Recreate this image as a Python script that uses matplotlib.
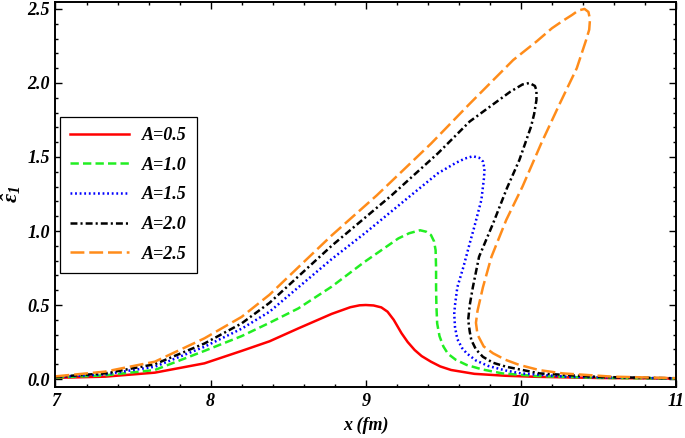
import matplotlib
matplotlib.use('Agg')
import matplotlib.pyplot as plt
from matplotlib.ticker import MultipleLocator, FormatStrFormatter

plt.rcParams['font.family'] = ['Liberation Serif', 'DejaVu Serif']
plt.rcParams['font.weight'] = 'bold'
plt.rcParams['font.style'] = 'italic'
plt.rcParams['mathtext.fontset'] = 'custom'
plt.rcParams['mathtext.it'] = 'Liberation Serif:italic:bold'
plt.rcParams['mathtext.rm'] = 'Liberation Serif:italic:bold'
plt.rcParams['lines.scale_dashes'] = False

# curves, ordered along each curve
x_05 = [7.0, 7.32, 7.64, 7.96, 8.2, 8.38, 8.565, 8.78, 8.9, 8.96, 9.0, 9.05, 9.1, 9.14,
        9.18, 9.23, 9.27, 9.315, 9.36, 9.42, 9.48, 9.55, 9.7, 9.9, 10.1, 10.5, 11.0]
y_05 = [0.008, 0.016, 0.043, 0.106, 0.19, 0.255, 0.342, 0.44, 0.485, 0.498, 0.5, 0.497,
        0.484, 0.455, 0.4, 0.31, 0.25, 0.196, 0.155, 0.117, 0.085, 0.061, 0.035, 0.022,
        0.015, 0.007, 0.003]

x_10 = [7.0, 7.32, 7.64, 7.96, 8.2, 8.38, 8.565, 8.78, 8.99, 9.1, 9.21, 9.28, 9.35, 9.39,
        9.42, 9.44, 9.45, 9.453, 9.453, 9.455, 9.46, 9.475, 9.5, 9.53, 9.58, 9.65, 9.75,
        9.88, 10.1, 10.5, 11.0]
y_10 = [0.01, 0.025, 0.061, 0.19, 0.29, 0.38, 0.477, 0.624, 0.79, 0.87, 0.95, 0.985, 1.005,
        0.995, 0.973, 0.93, 0.87, 0.75, 0.62, 0.5, 0.376, 0.29, 0.22, 0.17, 0.13, 0.095,
        0.065, 0.038, 0.02, 0.008, 0.003]

x_15 = [7.0, 7.32, 7.64, 7.96, 8.2, 8.38, 8.78, 9.0, 9.29, 9.465, 9.58, 9.64, 9.69, 9.73,
        9.755, 9.765, 9.762, 9.745, 9.70, 9.67, 9.63, 9.59, 9.575, 9.57, 9.575, 9.59, 9.62,
        9.65, 9.71, 9.79, 9.9, 10.0, 10.3, 11.0]
y_15 = [0.013, 0.032, 0.083, 0.218, 0.34, 0.455, 0.81, 0.99, 1.24, 1.39, 1.46, 1.49, 1.505,
        1.495, 1.47, 1.42, 1.36, 1.21, 1.03, 0.917, 0.76, 0.62, 0.5, 0.44, 0.35, 0.27, 0.21,
        0.174, 0.125, 0.088, 0.058, 0.038, 0.015, 0.004]

x_20 = [7.0, 7.32, 7.64, 7.96, 8.2, 8.38, 8.78, 9.165, 9.465, 9.67, 9.80, 9.93, 10.01,
        10.055, 10.09, 10.1, 10.1, 10.085, 10.065, 9.99, 9.91, 9.82, 9.73, 9.69, 9.67, 9.66,
        9.67, 9.68, 9.71, 9.755, 9.82, 9.905, 10.12, 10.5, 11.0]
y_20 = [0.015, 0.038, 0.10, 0.24, 0.376, 0.515, 0.90, 1.24, 1.525, 1.74, 1.84, 1.94, 1.99,
        2.0, 1.98, 1.95, 1.885, 1.79, 1.705, 1.48, 1.29, 1.05, 0.826, 0.62, 0.5, 0.40,
        0.32, 0.264, 0.2, 0.15, 0.11, 0.083, 0.038, 0.014, 0.005]

x_25 = [7.0, 7.32, 7.64, 7.96, 8.2, 8.38, 8.78, 9.07, 9.42, 9.67, 9.95, 10.1, 10.2, 10.27,
        10.33, 10.37, 10.41, 10.435, 10.445, 10.44, 10.42, 10.36, 10.25, 10.13, 10.01,
        9.905, 9.81, 9.755, 9.72, 9.71, 9.72, 9.76, 9.82, 9.9, 9.99, 10.12, 10.27, 10.59, 11.0]
y_25 = [0.018, 0.05, 0.117, 0.275, 0.42, 0.57, 0.97, 1.24, 1.59, 1.86, 2.155, 2.28, 2.37,
        2.42, 2.46, 2.49, 2.5, 2.48, 2.43, 2.36, 2.29, 2.1, 1.86, 1.59, 1.30, 1.074, 0.826,
        0.62, 0.46, 0.38, 0.3, 0.22, 0.174, 0.13, 0.095, 0.06, 0.038, 0.016, 0.006]

fig = plt.figure(figsize=(6.85, 4.38), dpi=100)
ax = fig.add_axes([0.081, 0.1164, 0.906, 0.879])

lw = 1.8
ax.plot(x_05, y_05, color='#ff0000', lw=lw, label='A=0.5')
ax.plot(x_10, y_10, color='#22ee22', lw=lw, dashes=(6, 3), label='A=1.0')
ax.plot(x_15, y_15, color='#0000ff', lw=lw, dashes=(1.3, 2), label='A=1.5')
ax.plot(x_20, y_20, color='black', lw=lw, dashes=(5, 2.2, 1.5, 2.2), label='A=2.0')
ax.plot(x_25, y_25, color='#ff8c1a', lw=lw, dashes=(10, 3.5), label='A=2.5')

ax.set_xlim(7, 11)
ax.set_ylim(-0.054, 2.547)
ax.xaxis.set_major_locator(MultipleLocator(1))
ax.xaxis.set_minor_locator(MultipleLocator(0.2))
ax.yaxis.set_major_locator(MultipleLocator(0.5))
ax.yaxis.set_minor_locator(MultipleLocator(0.1))
ax.yaxis.set_major_formatter(FormatStrFormatter('%.1f'))
ax.tick_params(which='both', direction='in', top=True, right=True, labelsize=13, width=1)
ax.tick_params(which='major', length=5, pad=4)
ax.tick_params(which='minor', length=2.5)
for lab in ax.get_xticklabels() + ax.get_yticklabels():
    lab.set_fontweight('bold')
    lab.set_fontstyle('italic')
for s in ax.spines.values():
    s.set_linewidth(1.4)

ax.set_xlabel('x (fm)', fontsize=13, fontweight='bold', labelpad=5)
ax.set_ylabel(r'$\hat{\varepsilon}_1$', fontsize=16, labelpad=3)

leg = ax.legend(loc='upper left', bbox_to_anchor=(0.007, 0.701), borderaxespad=0,
                prop={'size': 13, 'weight': 'bold', 'style': 'italic'},
                handlelength=3.3, handletextpad=0.7, fancybox=False, framealpha=1,
                edgecolor='black', borderpad=0.55, labelspacing=0.7)
leg.get_frame().set_linewidth(0.9)

fig.savefig('out.png', dpi=100)
